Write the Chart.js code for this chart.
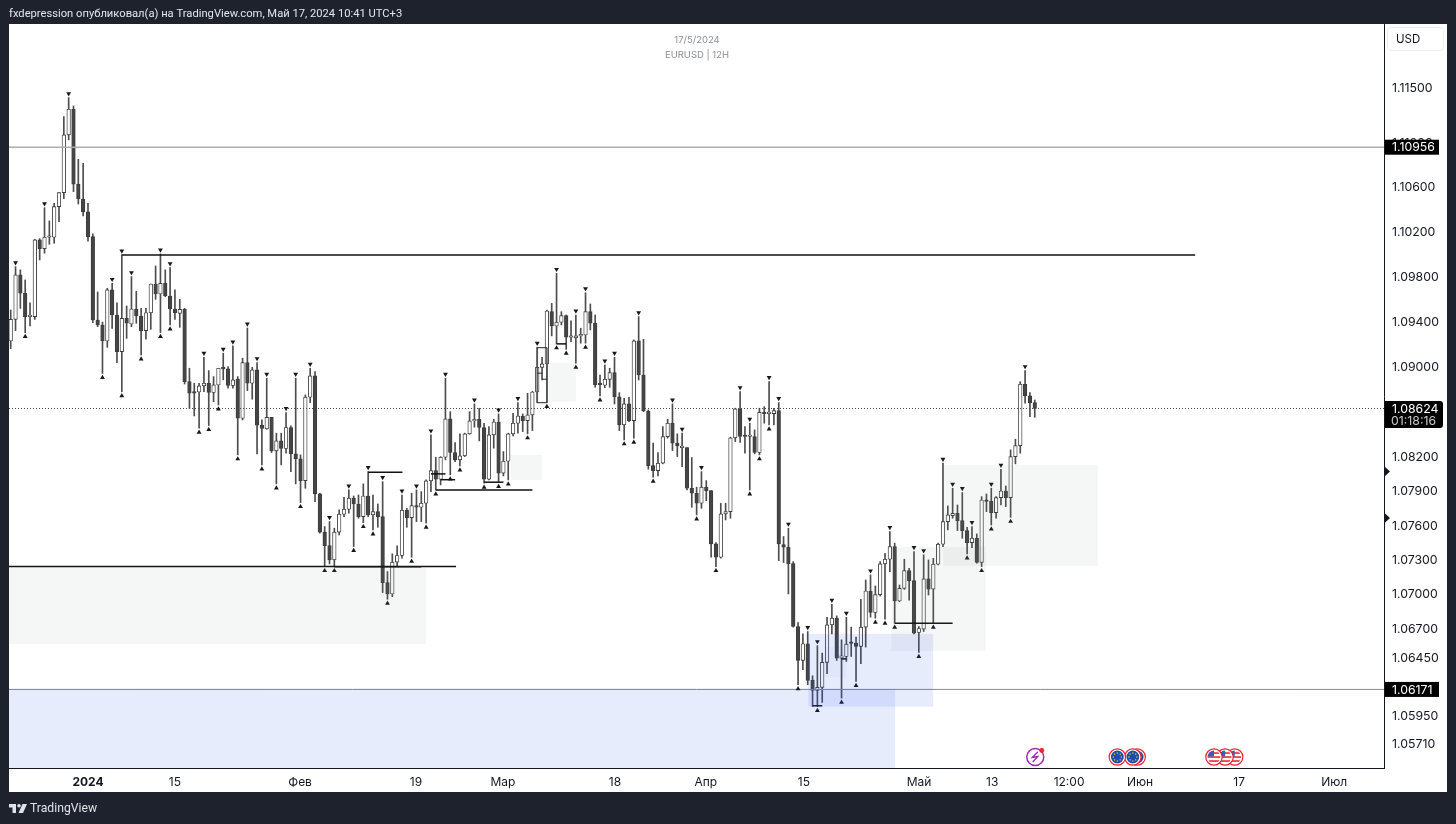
<!DOCTYPE html>
<html lang="ru">
<head>
<meta charset="UTF-8">
<title>EURUSD 12H</title>
<script src="https://cdn.jsdelivr.net/npm/chart.js"></script>
<style>
    html, body { margin: 0; padding: 0; background: #1e222d; overflow: hidden; }
    body { width: 1456px; height: 824px; position: relative; font-family: 'Inter', sans-serif; }
    #panel { position: absolute; left: 9px; top: 24px; width: 1438px; height: 768px; background: #fff; }
    #chart { position: absolute; left: 0; top: 0; }
    .txt { position: absolute; white-space: nowrap; }
    #head { left: 9px; top: 6px; font-family: Roboto, sans-serif; font-size: 11.2px; line-height: 15px; color: #e3e5ea; }
    #date, #sym { left: 597px; width: 200px; text-align: center; font-size: 9.5px; color: #8a8e97; }
    #date { top: 34px; }
    #sym { top: 49px; }
    #usd { left: 1387px; top: 27px; width: 55px; height: 22px; border: 1px solid #eceef1; border-radius: 4px; font-size: 11.5px; line-height: 22px; text-indent: 8px; color: #131722; }
    #brand { left: 30px; top: 800px; font-family: Roboto, sans-serif; font-size: 12.2px; line-height: 17px; color: #dfe2e8; }
    #logo { position: absolute; left: 9px; top: 804px; }
</style>
</head>
<body>
<div id="panel"></div>
<canvas id="chart" width="1456" height="824"></canvas>
<div class="txt" id="head">fxdepression опубликовал(а) на TradingView.com, Май 17, 2024 10:41 UTC+3</div>
<div class="txt" id="date">17/5/2024</div>
<div class="txt" id="sym">EURUSD | 12H</div>
<div class="txt" id="usd">USD</div>
<svg id="logo" width="18" height="9" viewBox="0 0 36 18"><path fill="#dfe2e8" d="M0 0h14v18H7V7H0zM20 0a3.6 3.6 0 1 1 0 7.2 3.6 3.6 0 0 1 0-7.2zM27 0h9l-8 18h-9z"/></svg>
<div class="txt" id="brand">TradingView</div>
<script>
// candles, 12H
const opens = [1.09222,1.09414,1.09810,1.09646,1.09438,1.09438,1.10123,1.10045,1.10147,1.10147,1.10421,1.10547,1.11067,1.11299,1.10624,1.10490,1.10374,1.10153,1.09408,1.09364,
1.09222,1.09676,1.09453,1.09127,1.09423,1.09373,1.09506,1.09444,1.09314,1.09473,1.09729,1.09640,1.09735,1.09622,1.09506,1.09467,1.09503,1.08862,1.08770,1.08770,
1.08824,1.08847,1.08765,1.08832,1.08980,1.08974,1.08827,1.08883,1.08538,1.09030,1.08847,1.08965,1.08476,1.08444,1.08546,1.08250,1.08338,1.08271,1.08456,1.08224,
1.08180,1.07989,1.08723,1.08912,1.07872,1.07537,1.07420,1.07295,1.07537,1.07694,1.07738,1.07834,1.07784,1.07673,1.07854,1.07688,1.07717,1.07673,1.07097,1.06998,
1.07275,1.07333,1.07729,1.07665,1.07770,1.07755,1.07790,1.07986,1.08077,1.08001,1.08194,1.08532,1.08236,1.08171,1.08206,1.08400,1.08514,1.08529,1.08456,1.08001,
1.08391,1.08505,1.08054,1.08159,1.08400,1.08494,1.08558,1.08517,1.08567,1.08770,1.08988,1.09018,1.09482,1.09355,1.09388,1.09447,1.09255,1.09249,1.09267,1.09275,
1.09482,1.09379,1.08841,1.08829,1.08882,1.08941,1.08728,1.08479,1.08664,1.08517,1.09222,1.08920,1.08602,1.08121,1.08077,1.08142,1.08376,1.08494,1.08318,1.08279,
1.08279,1.07922,1.07878,1.07790,1.07931,1.07901,1.07435,1.07318,1.07697,1.07717,1.08365,1.08620,1.08382,1.08377,1.08377,1.08236,1.08590,1.08579,1.08579,1.08605,
1.07429,1.07406,1.07263,1.06716,1.06422,1.06566,1.06249,1.06163,1.06189,1.06405,1.06730,1.06788,1.06442,1.06456,1.06574,1.06572,1.06543,1.06710,1.07024,1.06837,
1.06992,1.07260,1.07301,1.07411,1.06937,1.07047,1.07202,1.07114,1.06664,1.06693,1.07129,1.07041,1.07257,1.07432,1.07630,1.07682,1.07702,1.07638,1.07551,1.07446,
1.07484,1.07274,1.07813,1.07810,1.07708,1.07840,1.07898,1.07840,1.08200,1.08297,1.08838,1.08735,1.08676];
const closes = [1.09414,1.09810,1.09646,1.09438,1.09444,1.10123,1.10045,1.10147,1.10153,1.10421,1.10547,1.11067,1.11299,1.10624,1.10490,1.10374,1.10153,1.09408,1.09364,1.09222,
1.09676,1.09453,1.09127,1.09423,1.09379,1.09506,1.09444,1.09314,1.09473,1.09729,1.09640,1.09735,1.09622,1.09506,1.09473,1.09503,1.08860,1.08759,1.08759,1.08824,
1.08847,1.08765,1.08832,1.08980,1.08974,1.08827,1.08877,1.08538,1.09030,1.08847,1.08965,1.08476,1.08447,1.08546,1.08250,1.08338,1.08271,1.08456,1.08224,1.08180,
1.07989,1.08723,1.08912,1.07872,1.07537,1.07420,1.07295,1.07537,1.07694,1.07738,1.07834,1.07784,1.07673,1.07854,1.07688,1.07717,1.07673,1.07097,1.06998,1.07275,
1.07333,1.07729,1.07665,1.07770,1.07755,1.07790,1.07986,1.08077,1.08001,1.08194,1.08532,1.08236,1.08171,1.08206,1.08400,1.08514,1.08529,1.08456,1.08001,1.08391,
1.08505,1.08054,1.08159,1.08400,1.08494,1.08558,1.08517,1.08567,1.08770,1.08988,1.09018,1.09488,1.09355,1.09388,1.09447,1.09255,1.09261,1.09267,1.09275,1.09482,
1.09379,1.08832,1.08835,1.08882,1.08941,1.08728,1.08479,1.08664,1.08517,1.09222,1.08920,1.08602,1.08121,1.08077,1.08142,1.08376,1.08494,1.08318,1.08294,1.08291,
1.07922,1.07878,1.07790,1.07931,1.07901,1.07435,1.07318,1.07697,1.07717,1.08365,1.08620,1.08377,1.08377,1.08382,1.08236,1.08590,1.08579,1.08582,1.08605,1.07435,
1.07406,1.07263,1.06716,1.06422,1.06566,1.06249,1.06163,1.06189,1.06405,1.06730,1.06788,1.06442,1.06462,1.06563,1.06569,1.06543,1.06710,1.07024,1.06837,1.06992,
1.07260,1.07301,1.07411,1.06937,1.07047,1.07202,1.07114,1.06658,1.06698,1.07129,1.07041,1.07257,1.07432,1.07630,1.07688,1.07702,1.07638,1.07551,1.07446,1.07484,
1.07274,1.07819,1.07807,1.07708,1.07840,1.07898,1.07840,1.08200,1.08297,1.08838,1.08735,1.08676,1.08624];
const highs = [1.09497,1.09884,1.09855,1.09765,1.09562,1.10129,1.10135,1.10412,1.10293,1.10451,1.10547,1.11233,1.11404,1.11329,1.10847,1.10811,1.10451,1.10177,1.09658,1.09390,
1.09691,1.09735,1.09562,1.09989,1.09533,1.09795,1.09664,1.09512,1.09512,1.09729,1.09890,1.09998,1.09855,1.09875,1.09676,1.09592,1.09512,1.08980,1.08847,1.08847,
1.09077,1.08959,1.08906,1.08980,1.09113,1.08995,1.09178,1.08906,1.09069,1.09337,1.08989,1.09030,1.08523,1.08892,1.08546,1.08406,1.08406,1.08588,1.08470,1.08892,
1.08215,1.08744,1.08980,1.08951,1.07878,1.07586,1.07630,1.07572,1.07732,1.07842,1.07907,1.07854,1.07863,1.07960,1.08068,1.07863,1.07784,1.07980,1.07193,1.07348,
1.07417,1.07863,1.07746,1.07878,1.07907,1.07892,1.07995,1.08391,1.08194,1.08200,1.08892,1.08596,1.08324,1.08400,1.08406,1.08596,1.08664,1.08626,1.08494,1.08464,
1.08529,1.08576,1.08244,1.08406,1.08582,1.08676,1.08576,1.08758,1.08775,1.09166,1.09077,1.09497,1.09556,1.09824,1.09482,1.09453,1.09400,1.09453,1.09335,1.09651,
1.09551,1.09453,1.08920,1.09009,1.08980,1.09077,1.08764,1.08714,1.08723,1.09231,1.09438,1.09237,1.08611,1.08318,1.08236,1.08464,1.08529,1.08664,1.08400,1.08406,
1.08279,1.08192,1.07931,1.08068,1.07989,1.07901,1.07447,1.07790,1.07790,1.08371,1.08626,1.08773,1.08464,1.08494,1.08435,1.08626,1.08640,1.08862,1.08626,1.08676,
1.07499,1.07572,1.07280,1.06750,1.06652,1.06672,1.06289,1.06549,1.06485,1.06796,1.06909,1.06808,1.06600,1.06796,1.06710,1.06623,1.06951,1.07120,1.07164,1.07068,
1.07280,1.07353,1.07543,1.07441,1.07076,1.07301,1.07222,1.07368,1.06716,1.07339,1.07295,1.07309,1.07441,1.08142,1.07767,1.07922,1.07775,1.07884,1.07580,1.07586,
1.07522,1.07848,1.07872,1.07922,1.07848,1.08089,1.07942,1.08259,1.08353,1.08861,1.08959,1.08764,1.08699];
const lows = [1.09154,1.09314,1.09512,1.09296,1.09355,1.09414,1.09944,1.10004,1.10084,1.10093,1.10287,1.10493,1.11022,1.10556,1.10445,1.10338,1.10111,1.09385,1.09349,1.08934,
1.09165,1.09334,1.09029,1.08771,1.09245,1.09349,1.09379,1.09097,1.09237,1.09325,1.09592,1.09296,1.09616,1.09364,1.09414,1.09343,1.08840,1.08626,1.08558,1.08450,
1.08773,1.08473,1.08684,1.08655,1.08877,1.08803,1.08803,1.08215,1.08523,1.08782,1.08706,1.08224,1.08127,1.08441,1.08236,1.07960,1.08127,1.08230,1.08068,1.07960,
1.07796,1.07922,1.08676,1.07804,1.07528,1.07237,1.07260,1.07237,1.07513,1.07673,1.07703,1.07412,1.07659,1.07621,1.07673,1.07557,1.07580,1.07010,1.06952,1.06975,
1.07237,1.07310,1.07580,1.07318,1.07630,1.07630,1.07615,1.07892,1.07907,1.07951,1.08171,1.08039,1.08156,1.08118,1.08200,1.08397,1.08459,1.08338,1.07966,1.07995,
1.08274,1.07972,1.08030,1.07995,1.08382,1.08406,1.08420,1.08400,1.08429,1.08676,1.08876,1.08676,1.09267,1.09196,1.09364,1.09148,1.09216,1.09024,1.09202,1.09202,
1.09320,1.08811,1.08735,1.08808,1.08811,1.08664,1.08429,1.08347,1.08508,1.08362,1.08876,1.08596,1.08089,1.08019,1.08030,1.08136,1.08362,1.08253,1.08200,1.08112,
1.07907,1.07755,1.07688,1.07746,1.07813,1.07318,1.07237,1.07310,1.07644,1.07659,1.08332,1.08324,1.08230,1.07907,1.08224,1.08215,1.08494,1.08479,1.08479,1.07289,
1.07272,1.06998,1.06710,1.06212,1.06341,1.06212,1.06024,1.06024,1.06059,1.06307,1.06652,1.06422,1.06096,1.06413,1.06456,1.06240,1.06393,1.06537,1.06796,1.06788,
1.06980,1.06779,1.07193,1.06744,1.06932,1.07038,1.06945,1.06652,1.06491,1.06672,1.06989,1.06744,1.07251,1.07411,1.07557,1.07659,1.07551,1.07484,1.07347,1.07402,
1.07266,1.07237,1.07717,1.07600,1.07659,1.07775,1.07761,1.07667,1.08136,1.08230,1.08670,1.08552,1.08546];

// fractal arrows: candle numbers
const fractalHighs = [1,7,12,21,23,25,31,33,40,44,46,49,51,53,57,59,62,66,70,74,77,81,84,87,90,96,101,105,109,113,117,119,123,125,130,137,139,143,151,153,157,159,161,165,167,170,173,178,182,187,189,193,195,197,199,203,205,210];
const fractalLows = [3,19,23,27,31,33,39,41,43,47,52,55,60,65,67,71,73,75,78,83,86,88,91,93,98,101,103,107,111,113,115,117,119,122,127,129,133,142,146,153,155,157,163,167,172,175,179,181,183,188,191,198,201,203,207];

// drawn lines: [from candle, to candle, price]
const bosLines = [[23,245.2,1.09987],[-0.35,92.2,1.07238],[67,85,1.07236],[74,81.1,1.08063],[87,90,1.08048],[89,92,1.07997],[88,108,1.07907],[98,102,1.07975],
    [113,115,1.09196],[183,195,1.06744],[166,168,1.06030],[172,173,1.06435]];
const boxLines = [[109,111,1.09162],[109,111,1.08675],[109,110,1.08936],[110,111,1.08883]];
const bosVerticals = [[109,1.09162,1.08675],[111,1.09162,1.08675]];

// zones: [from candle, to candle, top price, bottom price]
const greyZones = [[-0.35,86,1.07238,1.06565],[182.3,201.9,1.07408,1.06504],[193.05,225.1,1.08127,1.07242],[111.3,117,1.09029,1.08684],[103.5,110,1.08215,1.07995]];
const blueZones = [[-0.35,183.1,1.06177,1.05495],[165.1,190.95,1.06652,1.06022]];
const faintBlueZones = [[168.5,173,1.06539,1.06280]];

// price levels
const greyLevels = [1.10956, 1.06171];
const lastPrice = 1.08624;
const lastCountdown = '01:18:16';
const axisArrows = [1.08068, 1.07661];

// axes
const yTicks = [1.115,1.11,1.106,1.102,1.098,1.094,1.09,1.082,1.079,1.076,1.073,1.07,1.067,1.0645,1.0595,1.0571];
const xTickPos = [16,34,59.9,83.9,101.9,125.1,143.9,164.2,188.05,203.2,219.1,233.8,254.3,274];
const xTickLabels = ['2024','15','Фев','19','Мар','18','Апр','15','Май','13','12:00','Июн','17','Июл'];

// calendar events on the bottom row
const boltEvents = [212.1];
const euEvents = [233.2,232.3,229.1];
const usEvents = [253.4,251.4,249.1];

const xMin = -0.352, xMax = 284.3, yMin = 1.05495, yMax = 1.12073;
const fontFamily = "'Inter', sans-serif";
const idx = opens.map((_, i) => i);

function segment(points, color, width, dash) {
    return { type: 'line', data: points, borderColor: color, borderWidth: width, borderDash: dash || [], pointRadius: 0, order: 2, clip: true };
}

const datasets = [
    { type: 'bar', data: idx.map(i => ({ x: i, y: [lows[i], highs[i]] })), backgroundColor: '#4d4d4d', barThickness: 1, grouped: false, order: 5 },
    { type: 'bar', data: idx.map(i => ({ x: i, y: [opens[i], closes[i]] })), grouped: false, order: 4, barThickness: 3.6, minBarLength: 1.5,
      backgroundColor: ctx => closes[ctx.dataIndex] >= opens[ctx.dataIndex] ? '#ffffff' : '#454545', borderColor: '#3c3c3c', borderWidth: 0.9, borderSkipped: false },
    { type: 'scatter', data: fractalHighs.map(i => ({ x: i, y: highs[i] + 0.00036 })), pointStyle: 'triangle', rotation: 180, pointRadius: 2.8, backgroundColor: '#131722', borderWidth: 0, order: 1 },
    { type: 'scatter', data: fractalLows.map(i => ({ x: i, y: lows[i] - 0.00036 })), pointStyle: 'triangle', pointRadius: 2.8, backgroundColor: '#131722', borderWidth: 0, order: 1 },
    segment([{ x: xMin, y: greyLevels[0] }, { x: xMax, y: greyLevels[0] }], '#adadad', 1.4),
    segment([{ x: xMin, y: greyLevels[1] }, { x: xMax, y: greyLevels[1] }], '#8a8a8a', 1),
    segment([{ x: xMin, y: lastPrice }, { x: xMax, y: lastPrice }], '#444444', 1, [1, 2]),
    ...bosLines.map(l => segment([{ x: l[0], y: l[2] }, { x: l[1], y: l[2] }], '#111111', 1.5)),
    ...boxLines.map(l => segment([{ x: l[0], y: l[2] }, { x: l[1], y: l[2] }], '#222222', 1)),
    ...bosVerticals.map(l => segment([{ x: l[0], y: l[1] }, { x: l[0], y: l[2] }], '#555555', 0.8))
];

// zones go over the candles, price tags and event badges go over everything
const overlay = {
    id: 'overlay',
    afterDatasetsDraw(chart) {
        const { ctx, scales: { x, y } } = chart;
        const fillZones = (zones, color) => {
            ctx.fillStyle = color;
            zones.forEach(z => {
                const left = x.getPixelForValue(z[0]), top = y.getPixelForValue(z[2]);
                ctx.fillRect(left, top, x.getPixelForValue(z[1]) - left, y.getPixelForValue(z[3]) - top);
            });
        };
        fillZones(greyZones, 'rgba(120,140,130,0.075)');
        fillZones(blueZones, 'rgba(40,90,235,0.115)');
        fillZones(faintBlueZones, 'rgba(40,90,235,0.04)');
    },
    afterDraw(chart) {
        const { ctx, chartArea, scales: { x, y } } = chart;
        ctx.save();
        // axis arrows
        ctx.fillStyle = '#131722';
        axisArrows.forEach(p => {
            const py = y.getPixelForValue(p);
            ctx.beginPath();
            ctx.moveTo(chartArea.right, py - 5.5);
            ctx.lineTo(chartArea.right + 6, py);
            ctx.lineTo(chartArea.right, py + 5.5);
            ctx.fill();
        });
        // price tags
        ctx.font = '12.3px ' + fontFamily;
        ctx.textBaseline = 'middle';
        ctx.textAlign = 'left';
        greyLevels.forEach(p => {
            const py = y.getPixelForValue(p);
            ctx.fillStyle = '#000';
            ctx.fillRect(chartArea.right + 1, py - 7.5, 54, 15);
            ctx.fillStyle = '#fff';
            ctx.fillText(p.toFixed(5), chartArea.right + 8, py + 0.5);
        });
        const lastY = y.getPixelForValue(lastPrice);
        ctx.fillStyle = '#000';
        ctx.beginPath();
        ctx.roundRect(chartArea.right + 1, lastY - 7.5, 58, 27, [0, 3, 3, 0]);
        ctx.fill();
        ctx.fillStyle = '#fff';
        ctx.fillText(lastPrice.toFixed(5), chartArea.right + 8, lastY + 0.5);
        ctx.fillStyle = '#c8cad0';
        ctx.fillText(lastCountdown, chartArea.right + 7, lastY + 13);

        // calendar badges
        const rowY = chartArea.bottom - 11;
        const ring = (cx, fill) => {
            ctx.beginPath();
            ctx.arc(cx, rowY, 8.2, 0, Math.PI * 2);
            ctx.fillStyle = '#fff';
            ctx.fill();
            ctx.strokeStyle = '#f0202f';
            ctx.lineWidth = 1.2;
            ctx.stroke();
            ctx.beginPath();
            ctx.arc(cx, rowY, 6.4, 0, Math.PI * 2);
            ctx.fillStyle = fill;
            ctx.fill();
        };
        boltEvents.forEach(v => {
            const cx = x.getPixelForValue(v);
            ctx.beginPath();
            ctx.arc(cx, rowY, 8.5, 0, Math.PI * 2);
            ctx.strokeStyle = '#9c27b0';
            ctx.lineWidth = 1.5;
            ctx.stroke();
            ctx.beginPath();
            ctx.moveTo(cx + 2.5, rowY - 5);
            ctx.lineTo(cx - 3, rowY + 0.5);
            ctx.lineTo(cx + 2.5, rowY - 0.5);
            ctx.lineTo(cx - 2.5, rowY + 5);
            ctx.strokeStyle = '#9c27b0';
            ctx.lineWidth = 1.3;
            ctx.stroke();
            ctx.beginPath();
            ctx.arc(cx + 6.5, rowY - 6.5, 2.4, 0, Math.PI * 2);
            ctx.fillStyle = '#f0202f';
            ctx.fill();
        });
        euEvents.forEach(v => {
            const cx = x.getPixelForValue(v);
            ring(cx, '#1c4fa8');
            ctx.fillStyle = '#f5d33b';
            for (let k = 0; k < 8; k++) {
                const a = k * Math.PI / 4;
                ctx.fillRect(cx + Math.cos(a) * 4 - 0.6, rowY + Math.sin(a) * 4 - 0.6, 1.2, 1.2);
            }
        });
        usEvents.forEach(v => {
            const cx = x.getPixelForValue(v);
            ring(cx, '#ffffff');
            ctx.save();
            ctx.beginPath();
            ctx.arc(cx, rowY, 6.4, 0, Math.PI * 2);
            ctx.clip();
            ctx.fillStyle = '#ef4b50';
            for (let k = -1; k < 2; k++) ctx.fillRect(cx - 7, rowY + k * 4 - 0.9, 14, 1.9);
            ctx.fillStyle = '#2f5fc4';
            ctx.fillRect(cx - 7, rowY - 7, 7, 6.5);
            ctx.restore();
        });
        ctx.restore();
    }
};

new Chart(document.getElementById('chart'), {
    data: { datasets },
    plugins: [overlay],
    options: {
        responsive: false,
        animation: false,
        layout: { padding: { left: 9, top: 24, right: 9, bottom: 31 } },
        plugins: { legend: { display: false }, tooltip: { enabled: false } },
        scales: {
            x: {
                type: 'linear',
                min: xMin,
                max: xMax,
                offset: false,
                grid: { display: false, drawTicks: false },
                border: { color: '#131722', width: 1 },
                afterFit(axis) { axis.height = 25; },
                afterBuildTicks(axis) { axis.ticks = xTickPos.map(value => ({ value })); },
                ticks: {
                    autoSkip: false,
                    maxRotation: 0,
                    padding: 7,
                    color: '#131722',
                    font: ctx => ({ family: fontFamily, size: 12, weight: ctx.index === 0 ? '700' : '400' }),
                    callback: value => xTickLabels[xTickPos.indexOf(value)]
                }
            },
            y: {
                type: 'logarithmic',
                position: 'right',
                min: yMin,
                max: yMax,
                grid: { display: false, drawTicks: false },
                border: { color: '#131722', width: 1 },
                afterFit(axis) { axis.width = 63; },
                afterBuildTicks(axis) { axis.ticks = yTicks.map(value => ({ value })); },
                ticks: {
                    autoSkip: false,
                    padding: 8,
                    labelOffset: 1,
                    color: '#131722',
                    font: { family: fontFamily, size: 12.3 },
                    callback: value => value.toFixed(5)
                }
            }
        }
    }
});
</script>
</body>
</html>
